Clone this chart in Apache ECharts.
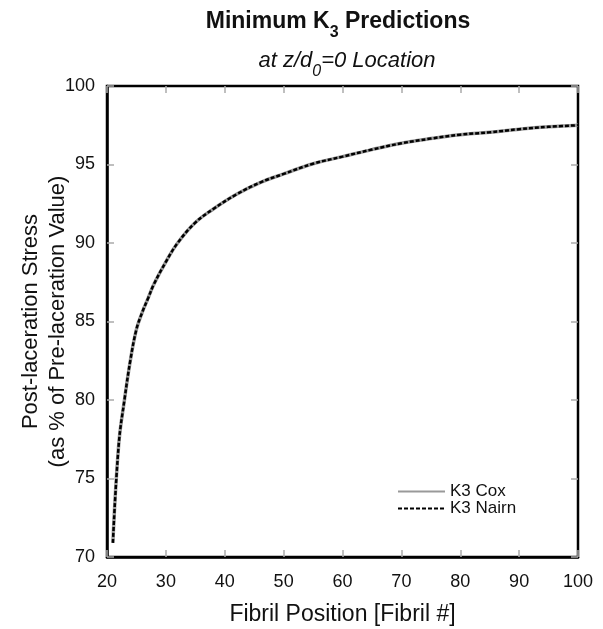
<!DOCTYPE html>
<html>
<head>
<meta charset="utf-8">
<script src="https://cdn.jsdelivr.net/npm/echarts@6/dist/echarts.min.js"></script>
<style>
html,body{margin:0;padding:0;background:#fff;}
#c{width:603px;height:629px;}
</style>
</head>
<body>
<div id="c"></div>
<script>
var fibrilPos = [21, 22, 23, 24, 25, 26, 27, 28, 30, 32, 35, 38, 42, 46, 50, 55, 60, 65, 70, 75, 80, 85, 90, 95, 100];
var coxValues = [70.9, 77.2, 80.1, 82.6, 84.5, 85.6, 86.5, 87.4, 88.8, 90.0, 91.3, 92.15, 93.1, 93.85, 94.4, 95.05, 95.5, 95.95, 96.35, 96.65, 96.9, 97.05, 97.25, 97.4, 97.5];
var nairnValues = [70.9, 77.2, 80.1, 82.6, 84.5, 85.6, 86.5, 87.4, 88.8, 90.0, 91.3, 92.15, 93.1, 93.85, 94.4, 95.05, 95.5, 95.95, 96.35, 96.65, 96.9, 97.05, 97.25, 97.4, 97.5];
var xTicks = [20, 30, 40, 50, 60, 70, 80, 90, 100];
var yTicks = [70, 75, 80, 85, 90, 95, 100];

function pairs(xs, ys){ return xs.map(function(x,i){ return [x, ys[i]]; }); }

var FONT = '"Liberation Sans", Arial, sans-serif';
var chart = echarts.init(document.getElementById('c'));
var tickStyle = {show:true, inside:true, length:7, lineStyle:{color:'#aaaaaa', width:1.5}};
chart.setOption({
  animation:false,
  backgroundColor:'#fff',
  textStyle:{fontFamily:FONT},
  title:[
    {text:'Minimum K{sub|3} Predictions', left:333, top:-2, textAlign:'center',
     textStyle:{fontFamily:FONT, fontSize:23, fontWeight:'bold', color:'#111',
       rich:{sub:{fontFamily:FONT, fontSize:16, fontWeight:'bold', color:'#111', padding:[22,0,0,0]}}}},
    {text:'at z/d{sub|0}=0 Location', left:342, top:37, textAlign:'center',
     textStyle:{fontFamily:FONT, fontSize:22, fontStyle:'italic', fontWeight:'normal', color:'#111',
       rich:{sub:{fontFamily:FONT, fontSize:16, fontStyle:'italic', color:'#111', padding:[22,0,0,0]}}}}
  ],
  grid:{left:107, right:25, top:86, bottom:72, show:true, borderColor:'#000', borderWidth:2.5, backgroundColor:'#fff', outerBoundsMode:'none', containLabel:false},
  legend:{
    orient:'vertical', left:392, top:478, itemWidth:47, itemHeight:6, itemGap:0,
    itemStyle:{opacity:0},
    textStyle:{fontFamily:FONT, fontSize:17, lineHeight:17, color:'#111'},
    data:['K3 Cox','K3 Nairn']
  },
  xAxis:[{
    type:'value', min:20, max:100, interval:10,
    name:'Fibril Position [Fibril #]', nameLocation:'middle', nameGap:46,
    nameTextStyle:{fontFamily:FONT, fontSize:23, color:'#111'},
    axisLine:{show:true, lineStyle:{color:'#000', width:2.5}},
    axisTick:tickStyle,
    axisLabel:{fontFamily:FONT, fontSize:18, color:'#111', margin:16, formatter:function(v){return xTicks.indexOf(v)>=0?String(v):'';}},
    splitLine:{show:false}
  },{
    type:'value', min:20, max:100, interval:10, position:'top',
    axisLine:{show:false}, axisTick:tickStyle, axisLabel:{show:false}, splitLine:{show:false}
  }],
  yAxis:[{
    type:'value', min:70, max:100, interval:5,
    name:'Post-laceration Stress\n(as % of Pre-laceration Value)', nameLocation:'middle', nameGap:36,
    nameMoveOverlap:false,
    nameTextStyle:{fontFamily:FONT, fontSize:22, color:'#111', lineHeight:27},
    axisLine:{show:true, lineStyle:{color:'#000', width:2.5}},
    axisTick:tickStyle,
    axisLabel:{fontFamily:FONT, fontSize:18, color:'#111', margin:12, formatter:function(v){return yTicks.indexOf(v)>=0?String(v):'';}},
    splitLine:{show:false}
  },{
    type:'value', min:70, max:100, interval:5, position:'right',
    axisLine:{show:false}, axisTick:tickStyle, axisLabel:{show:false}, splitLine:{show:false}
  }],
  series:[
    {name:'K3 Cox', type:'line', data:pairs(fibrilPos, coxValues), smooth:0.4, symbol:'none',
     itemStyle:{color:'#999999'}, lineStyle:{color:'#999999', width:3.5}, z:2},
    {name:'K3 Nairn', type:'line', data:pairs(fibrilPos, nairnValues), smooth:0.4, symbol:'none',
     itemStyle:{color:'#000'}, lineStyle:{color:'#000', width:2.5, type:[4,2]}, z:3}
  ]
});
</script>
</body>
</html>
